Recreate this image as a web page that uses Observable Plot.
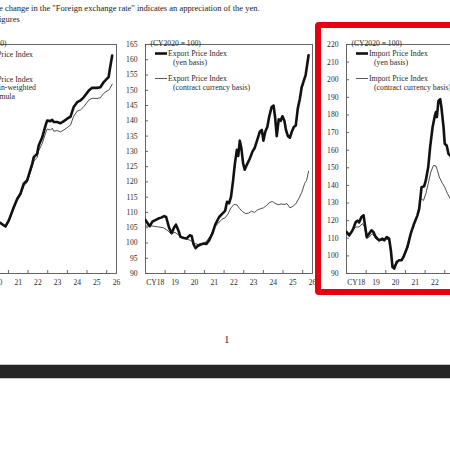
<!DOCTYPE html>
<html><head><meta charset="utf-8">
<script src="https://cdn.jsdelivr.net/npm/d3@7"></script>
<script src="https://cdn.jsdelivr.net/npm/@observablehq/plot@0.6"></script>
<style>
html,body{margin:0;padding:0;background:#fff;}
body{width:450px;height:450px;position:relative;overflow:hidden;font-family:"Liberation Serif","DejaVu Serif",serif;color:#222;}
.abs{position:absolute;white-space:nowrap;}
.abs svg{max-width:none;}
</style></head><body>
<div class="abs" style="left:-1px;top:3px;font-size:8.5px;">e change in the "Foreign exchange rate" indicates an appreciation of the yen.</div>
<div class="abs" style="left:-1px;top:14px;font-size:8.5px;">igures</div>
<div id="p1" class="abs"></div>
<div id="p2" class="abs"></div>
<div id="p3" class="abs"></div>
<div class="abs" style="left:315px;top:22px;width:200px;height:261px;border:6px solid #e60012;border-radius:4px;"></div>
<div class="abs" style="left:224px;top:333px;font-size:11px;color:#333;">1</div>
<div class="abs" style="left:0;top:364px;width:450px;height:1px;background:#c8c8c8;"></div>
<div class="abs" style="left:0;top:365px;width:450px;height:13px;background:#262626;"></div>
<div class="abs" style="left:0;top:378px;width:450px;height:1px;background:#c8c8c8;"></div>
<script>
// ---------- shared axis data ----------
const xDomain = [2018, 2026.5];
const xTickYears = [2019, 2020, 2021, 2022, 2023, 2024, 2025, 2026];
const xLabelYears = [2018.5, 2019.5, 2020.5, 2021.5, 2022.5, 2023.5, 2024.5, 2025.5, 2026.5];
const xLabelText = ["CY18", "19", "20", "21", "22", "23", "24", "25", "26"];
const unitText = "(CY2020 = 100)";

// ---------- panel 1 (left, mostly cut off) ----------
const p1YDomain = [90, 165];
const p1YTicks = [90, 95, 100, 105, 110, 115, 120, 125, 130, 135, 140, 145, 150, 155, 160, 165];
const p1T = [2020.45, 2020.60, 2020.85, 2021.02, 2021.27, 2021.45, 2021.61, 2021.78, 2021.95, 2022.21, 2022.29, 2022.46, 2022.54, 2022.72, 2022.89, 2022.97, 2023.14, 2023.23, 2023.31, 2023.48, 2023.65, 2023.82, 2023.99, 2024.16, 2024.32, 2024.50, 2024.67, 2024.83, 2025.09, 2025.26, 2025.51, 2025.68, 2025.85, 2026.02, 2026.10, 2026.15, 2026.28];
const p1Main = [107.0, 106.5, 105.4, 107.4, 111.7, 114.5, 116.1, 119.4, 120.5, 125.9, 128.1, 129.2, 131.9, 134.6, 138.5, 140.1, 139.9, 140.3, 139.6, 139.6, 139.2, 139.9, 140.7, 141.4, 144.5, 146.1, 146.7, 147.7, 149.9, 150.8, 150.8, 151.0, 152.7, 153.8, 154.3, 156.5, 161.4];
const p1Chain = [106.8, 106.3, 105.2, 107.0, 111.2, 114.0, 115.6, 118.8, 119.8, 125.0, 126.8, 128.0, 130.2, 132.6, 136.0, 137.3, 137.0, 137.6, 136.6, 136.8, 136.4, 137.0, 137.8, 138.6, 141.5, 143.2, 143.6, 144.6, 146.8, 147.4, 147.3, 147.6, 149.0, 149.8, 150.0, 150.4, 152.0];
const p1Legend = ["Producer Price Index", "Producer Price Index", "(chain-weighted", "formula"];

// ---------- panel 2 (export) ----------
const p2YDomain = [90, 165];
const p2YTicks = [90, 95, 100, 105, 110, 115, 120, 125, 130, 135, 140, 145, 150, 155, 160, 165];
const expYenT = [2018.0, 2018.1, 2018.22, 2018.35, 2018.5, 2018.65, 2018.8, 2018.95, 2019.05, 2019.2, 2019.33, 2019.45, 2019.55, 2019.68, 2019.78, 2019.95, 2020.1, 2020.25, 2020.35, 2020.45, 2020.55, 2020.65, 2020.8, 2020.97, 2021.1, 2021.25, 2021.4, 2021.55, 2021.75, 2021.9, 2022.05, 2022.15, 2022.25, 2022.35, 2022.45, 2022.55, 2022.65, 2022.72, 2022.8, 2022.88, 2022.97, 2023.05, 2023.15, 2023.3, 2023.45, 2023.55, 2023.7, 2023.82, 2023.92, 2024.0, 2024.1, 2024.2, 2024.3, 2024.42, 2024.52, 2024.6, 2024.68, 2024.78, 2024.88, 2024.97, 2025.07, 2025.15, 2025.25, 2025.35, 2025.45, 2025.55, 2025.65, 2025.75, 2025.85, 2025.95, 2026.05, 2026.15, 2026.22, 2026.3];
const expYen = [107.5, 106.5, 105.5, 107, 107.5, 108, 108.3, 108.8, 108.5, 105, 103.2, 105, 106, 104, 102, 101.6, 101.5, 102.5, 102.3, 99.5, 98.3, 99, 99.5, 99.8, 99.7, 101, 103, 106, 108.5, 109.5, 110.5, 113.5, 113, 115, 120, 126, 130.5, 128.5, 133.5, 131, 126, 124, 125.5, 127.5, 130, 131, 134, 136.5, 137, 133.5, 136.5, 138, 141.5, 144.5, 145, 141, 135, 140.5, 140, 141.5, 140, 137, 135, 134.5, 136.5, 138, 138.5, 144, 147, 151, 153, 155, 158, 161.5];
const expCurT = [2018.0, 2018.3, 2018.6, 2018.9, 2019.1, 2019.3, 2019.5, 2019.7, 2019.9, 2020.1, 2020.3, 2020.5, 2020.7, 2020.9, 2021.1, 2021.3, 2021.5, 2021.7, 2021.9, 2022.05, 2022.2, 2022.35, 2022.5, 2022.65, 2022.8, 2022.95, 2023.1, 2023.25, 2023.4, 2023.55, 2023.7, 2023.85, 2024.0, 2024.15, 2024.3, 2024.45, 2024.6, 2024.75, 2024.9, 2025.05, 2025.2, 2025.35, 2025.5, 2025.65, 2025.8, 2025.95, 2026.1, 2026.2, 2026.3];
const expCur = [105.5, 105.6, 105.3, 105, 104.2, 103, 103.5, 102.5, 101.5, 101.3, 100.8, 99.8, 99.5, 99.6, 100.5, 102.3, 105, 106.5, 107.8, 108.2, 109.5, 111.5, 112.6, 112.5, 111.2, 110.2, 109.6, 109.8, 110.4, 110, 110.8, 111.2, 111.5, 112.2, 113.2, 113.6, 113, 112.5, 112.8, 112.6, 112.9, 111.5, 112, 112.8, 114.5, 116.5, 119.5, 120.5, 123.5];
const p2Legend = ["Export Price Index", "(yen basis)", "Export Price Index", "(contract currency basis)"];

// ---------- panel 3 (import, highlighted) ----------
const p3YDomain = [90, 220];
const p3YTicks = [90, 100, 110, 120, 130, 140, 150, 160, 170, 180, 190, 200, 210, 220];
const impYenT = [2018.0, 2018.14, 2018.31, 2018.47, 2018.56, 2018.64, 2018.76, 2018.87, 2018.93, 2019.03, 2019.15, 2019.27, 2019.37, 2019.49, 2019.66, 2019.83, 2019.92, 2020.05, 2020.17, 2020.26, 2020.34, 2020.43, 2020.56, 2020.68, 2020.8, 2020.9, 2021.1, 2021.27, 2021.44, 2021.61, 2021.7, 2021.82, 2021.95, 2022.04, 2022.16, 2022.26, 2022.38, 2022.5, 2022.55, 2022.6, 2022.68, 2022.77, 2022.83, 2022.94, 2023.0, 2023.1, 2023.19, 2023.28, 2023.4];
const impYen = [113.6, 111.7, 114.5, 119.2, 120, 119, 122, 123, 118.3, 110.7, 112.6, 114.5, 113.6, 110.7, 108.8, 109.8, 108.8, 110.7, 109.8, 103, 93.7, 92.8, 96.6, 97.5, 97.5, 99.4, 105, 112.6, 118.3, 123, 126.8, 139, 139.5, 143, 150.4, 162, 173, 179.7, 181.6, 178.8, 188, 189, 184.5, 173, 163.7, 162.7, 158, 157, 155];
const impCurT = [2018.0, 2018.14, 2018.31, 2018.47, 2018.64, 2018.81, 2018.9, 2019.03, 2019.15, 2019.32, 2019.49, 2019.66, 2019.83, 2020.0, 2020.17, 2020.26, 2020.34, 2020.51, 2020.68, 2020.85, 2021.02, 2021.19, 2021.36, 2021.53, 2021.7, 2021.78, 2021.92, 2022.04, 2022.16, 2022.29, 2022.43, 2022.55, 2022.63, 2022.72, 2022.89, 2023.0, 2023.14, 2023.28, 2023.4];
const impCur = [112.6, 111, 114.5, 116.4, 116.4, 118.3, 116.8, 109.8, 110.7, 112.6, 109.8, 108.8, 108.8, 109.8, 108.8, 101.3, 94.7, 94.7, 97.5, 98.4, 103, 109.8, 115.5, 120.2, 125.9, 132.5, 131.5, 135.3, 141, 147.6, 151.4, 151, 148.5, 144.8, 141, 139, 135.3, 132.5, 130];
const p3Legend = ["Import Price Index", "(yen basis)", "Import Price Index", "(contract currency basis)"];

// ---------- drawing ----------
const FONT = '"Liberation Serif", "DejaVu Serif", serif';
const FW = 167, FH = 229;             // frame size in px
const M = {l: 35, r: 8, t: 26, b: 20};
const TXT = "#2a2a2a";

const zip = (t, v) => t.map((d, i) => ({t: d, v: v[i]}));

function legendRender(lines, mode) {
  return function(...args) {
    const dims = args.find(a => a && typeof a === "object" && "marginLeft" in a && "marginTop" in a);
    const x0 = dims.marginLeft, y0 = dims.marginTop;
    const g = d3.create("svg:g").attr("font-family", FONT).attr("font-size", 7.8)
      .attr("fill", TXT).attr("text-anchor", "start");
    if (mode === "cut") {
      const pos = [[84, 10], [84, 35], [87, 43.5], [66, 52]];
      lines.forEach((s, i) => g.append("text").attr("x", x0 + pos[i][0]).attr("y", y0 + pos[i][1])
        .attr("dy", "0.35em").attr("text-anchor", "end").text(s));
      return g.node();
    }
    const items = [{y: 9.5, sw: 2.6, col: "#111"}, {y: 34.5, sw: 0.9, col: "#444"}];
    items.forEach((it, k) => {
      g.append("line").attr("x1", x0 + 10).attr("x2", x0 + 22).attr("y1", y0 + it.y).attr("y2", y0 + it.y)
        .attr("stroke", it.col).attr("stroke-width", it.sw);
      g.append("text").attr("x", x0 + 23).attr("y", y0 + it.y).attr("dy", "0.35em").text(lines[2 * k]);
      g.append("text").attr("x", x0 + 28).attr("y", y0 + it.y + 9).attr("dy", "0.35em").text(lines[2 * k + 1]);
    });
    return g.node();
  };
}

function panel(cfg) {
  const xLabels = xLabelYears.map((t, i) => ({t, label: xLabelText[i]}))
    .filter(d => cfg.minLabelYear == null || d.t >= cfg.minLabelYear);
  const p = Plot.plot({
    width: M.l + FW + M.r,
    height: M.t + FH + M.b,
    marginLeft: M.l, marginRight: M.r, marginTop: M.t, marginBottom: M.b,
    style: {fontFamily: FONT, background: "transparent", overflow: "visible"},
    x: {domain: xDomain, axis: null},
    y: {domain: cfg.yDomain, axis: null},
    marks: [
      Plot.frame({stroke: "#555", strokeWidth: 0.9}),
      Plot.tickX(xTickYears, {x: d => d, insetTop: FH - 3, stroke: "#555", strokeWidth: 0.9}),
      Plot.tickY(cfg.yTicks, {y: d => d, insetRight: FW - 3, stroke: "#555", strokeWidth: 0.9}),
      cfg.yLabels === false ? null :
        Plot.text(cfg.yTicks, {y: d => d, text: d => String(d), frameAnchor: "left", textAnchor: "end", dx: -8, fontSize: 7.6, fill: TXT}),
      Plot.text(xLabels, {x: "t", text: "label", frameAnchor: "bottom", lineAnchor: "top", dy: 6, fontSize: 7.6, fill: TXT}),
      Plot.text([unitText], {text: d => d, frameAnchor: "top-left", textAnchor: cfg.unitAnchor || "start", lineAnchor: "bottom", dx: cfg.unitDx ?? 5, dy: 1, fontSize: 7.6, fill: TXT}),
      Plot.line(zip(cfg.t2, cfg.v2), {x: "t", y: "v", stroke: "#3a3a3a", strokeWidth: 0.9, clip: true}),
      Plot.line(zip(cfg.t1, cfg.v1), {x: "t", y: "v", stroke: "#111", strokeWidth: 2.6, strokeLinejoin: "round", clip: true}),
      legendRender(cfg.legend, cfg.legendMode)
    ]
  });
  const host = document.getElementById(cfg.id);
  host.style.left = (cfg.frameLeft - M.l) + "px";
  host.style.top = (44 - M.t) + "px";
  host.appendChild(p);
}

panel({id: "p1", frameLeft: -51, yDomain: p1YDomain, yTicks: p1YTicks, yLabels: false, minLabelYear: 2020,
       t1: p1T, v1: p1Main, t2: p1T, v2: p1Chain, legend: p1Legend, legendMode: "cut", unitAnchor: "end", unitDx: 57});
panel({id: "p2", frameLeft: 145, yDomain: p2YDomain, yTicks: p2YTicks, t1: expYenT, v1: expYen, t2: expCurT, v2: expCur, legend: p2Legend});
panel({id: "p3", frameLeft: 346, yDomain: p3YDomain, yTicks: p3YTicks, t1: impYenT, v1: impYen, t2: impCurT, v2: impCur, legend: p3Legend});
</script>
</body></html>
